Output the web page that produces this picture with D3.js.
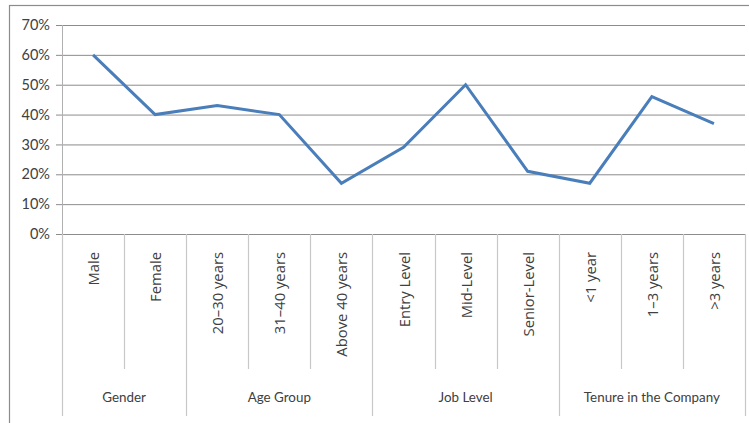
<!DOCTYPE html>
<html>
<head>
<meta charset="utf-8">
<script src="https://cdn.jsdelivr.net/npm/d3@7"></script>
<style>
  html, body { margin: 0; padding: 0; background: #fff; }
  svg { display: block; }
  text { fill: #404040; }
</style>
</head>
<body>
<svg id="chart" width="749" height="423"></svg>
<script>
// Share of respondents by demographic category
const categories = ["Male", "Female", "20–30 years", "31–40 years", "Above 40 years",
  "Entry Level", "Mid-Level", "Senior-Level", "<1 year", "1–3 years", ">3 years"];
const groups = ["Gender", "Gender", "Age Group", "Age Group", "Age Group",
  "Job Level", "Job Level", "Job Level",
  "Tenure in the Company", "Tenure in the Company", "Tenure in the Company"];
const values = [0.60, 0.40, 0.43, 0.40, 0.17, 0.29, 0.50, 0.21, 0.17, 0.46, 0.37];
const yTicks = [0, 0.1, 0.2, 0.3, 0.4, 0.5, 0.6, 0.7];

const svg = d3.select("#chart");
const plotLeft = 62, plotRight = 745, plotTop = 25, plotBottom = 234;
const catBottom = 369, groupBottom = 416;
const labelFont = "'Open Sans', 'DejaVu Sans', sans-serif";
const narrowFont = "Lato, 'Liberation Sans', sans-serif";

// outer chart frame
svg.append("rect")
  .attr("x", 9.5).attr("y", 5.5)
  .attr("width", 760).attr("height", 440)
  .attr("fill", "none").attr("stroke", "#8c8c8c").attr("stroke-width", 1.2);

const x = d3.scaleBand().domain(d3.range(categories.length)).range([plotLeft, plotRight]);
const y = d3.scaleLinear().domain([0, 0.7]).range([plotBottom, plotTop]);

// horizontal gridlines + y axis
const yAxis = d3.axisLeft(y).tickValues(yTicks).tickFormat(d3.format(".0%"))
  .tickSize(-(plotRight - plotLeft)).tickPadding(12);
const gy = svg.append("g").attr("transform", `translate(${plotLeft},0)`).call(yAxis);
gy.select(".domain").remove();
gy.selectAll(".tick line").attr("stroke", "#8c8c8c").attr("stroke-width", 1).attr("x1", -6);
gy.selectAll(".tick text")
  .attr("font-family", narrowFont)
  .attr("font-size", 14.5).attr("fill", "#404040");

// vertical axis line
svg.append("line")
  .attr("x1", plotLeft + 0.5).attr("x2", plotLeft + 0.5)
  .attr("y1", plotTop).attr("y2", groupBottom)
  .attr("stroke", "#b0b0b0");

// category separators
const sepColor = "#c8c8c8";
const bounds = d3.range(categories.length + 1);
svg.append("g").selectAll("line").data(bounds).join("line")
  .attr("x1", i => Math.round(i < categories.length ? x(i) : plotRight) + 0.5)
  .attr("x2", i => Math.round(i < categories.length ? x(i) : plotRight) + 0.5)
  .attr("y1", plotBottom)
  .attr("y2", i => {
    if (i === 0 || i === categories.length) return groupBottom;
    return groups[i] !== groups[i - 1] ? groupBottom : catBottom;
  })
  .attr("stroke", sepColor).attr("stroke-width", 1.2);

// category labels, rotated
svg.append("g").selectAll("text").data(categories).join("text")
  .attr("transform", (d, i) => `translate(${x(i) + x.bandwidth() / 2 + 6},252) rotate(-90)`)
  .attr("text-anchor", "end")
  .attr("font-family", labelFont)
  .attr("font-size", 14.8)
  .attr("fill", "#404040")
  .text(d => d);

// group labels
const groupNames = Array.from(new Set(groups));
const groupSpans = groupNames.map(g => {
  const idx = groups.map((v, i) => v === g ? i : -1).filter(i => i >= 0);
  return { name: g, x0: x(idx[0]), x1: x(idx[idx.length - 1]) + x.bandwidth() };
});
svg.append("g").selectAll("text").data(groupSpans).join("text")
  .attr("x", d => (d.x0 + d.x1) / 2)
  .attr("y", 402)
  .attr("text-anchor", "middle")
  .attr("font-family", narrowFont)
  .attr("font-size", 13.4)
  .attr("fill", "#404040")
  .text(d => d.name);

// the series line
const line = d3.line()
  .x((d, i) => x(i) + x.bandwidth() / 2)
  .y(d => y(d));
svg.append("path")
  .datum(values)
  .attr("d", line)
  .attr("fill", "none")
  .attr("stroke", "#4a7ebb")
  .attr("stroke-width", 3)
  .attr("stroke-linejoin", "miter");
</script>
</body>
</html>
